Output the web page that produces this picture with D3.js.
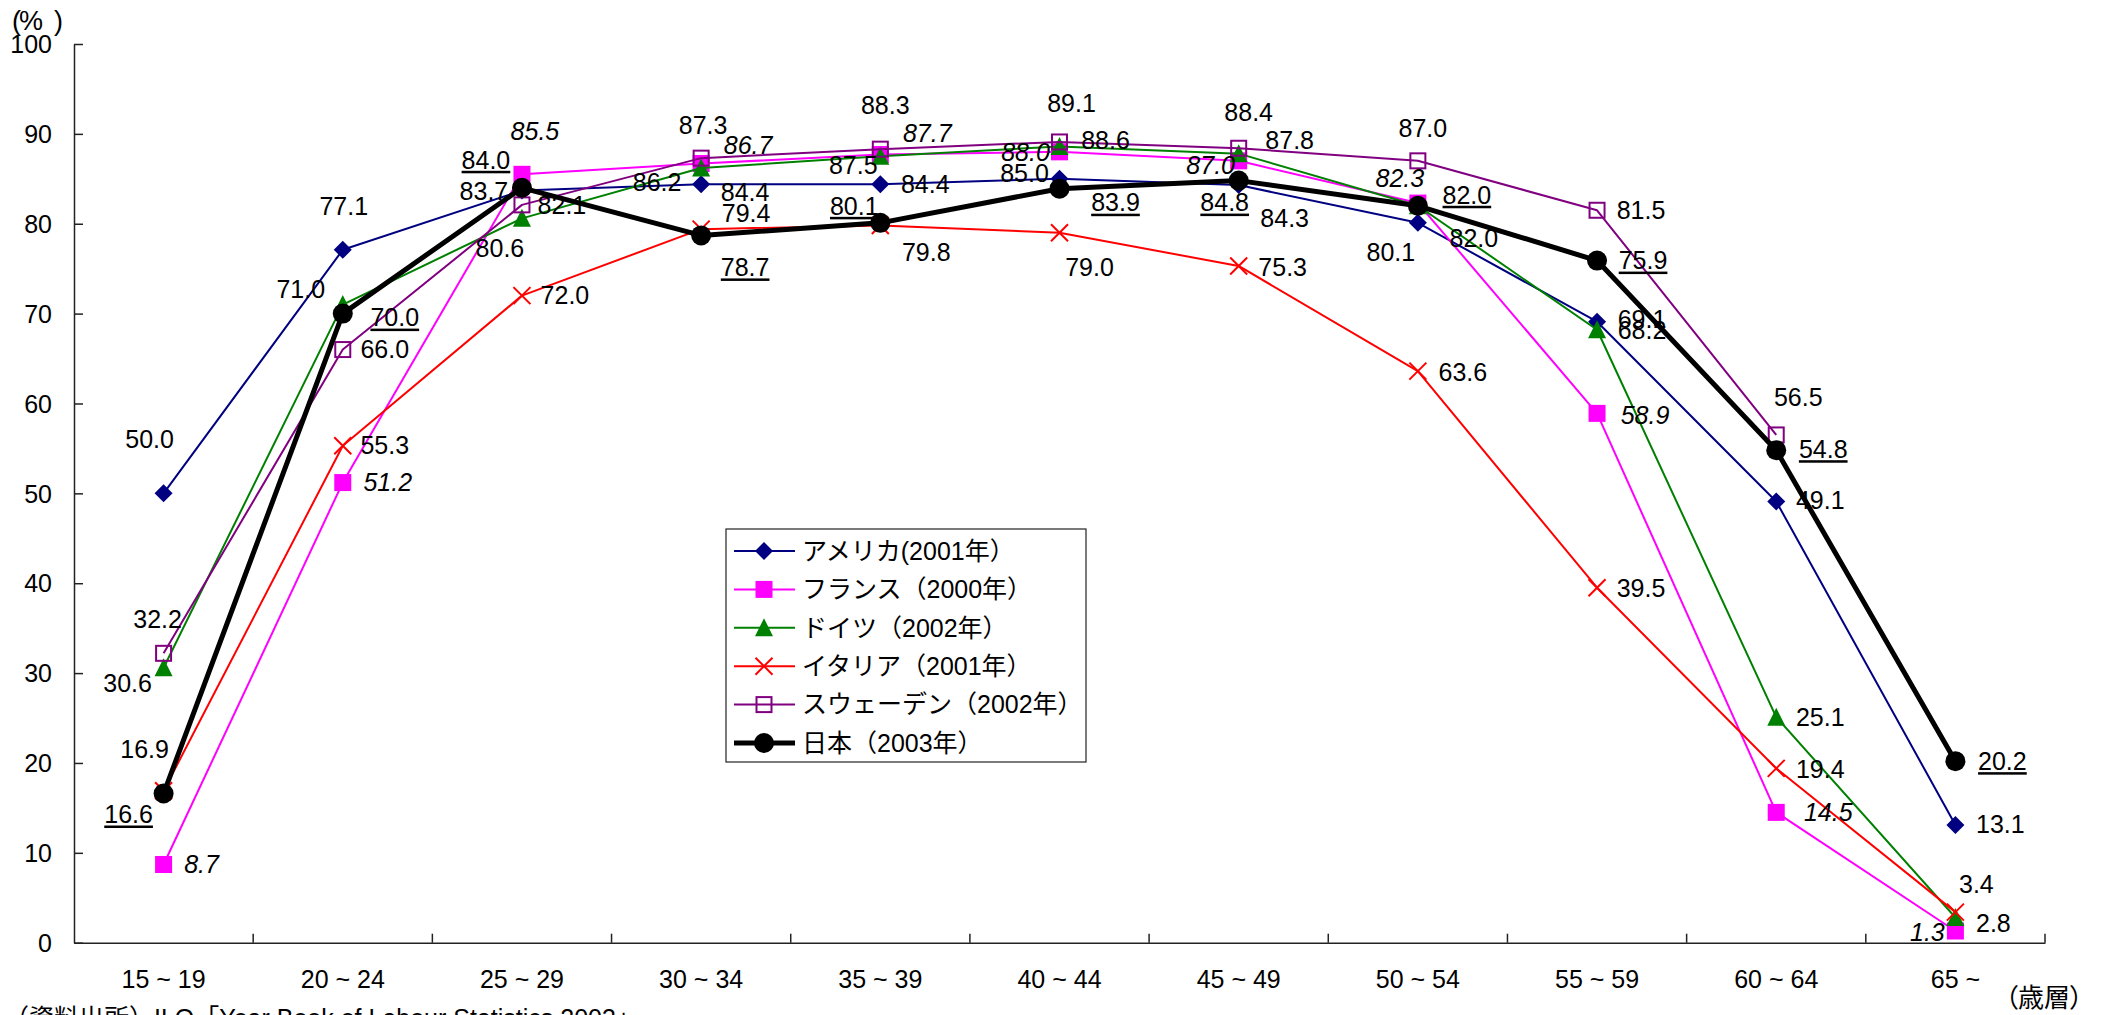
<!DOCTYPE html>
<html>
<head>
<meta charset="utf-8">
<script src="https://cdn.jsdelivr.net/npm/d3@7"></script>
<style>
  html, body { margin: 0; padding: 0; background: #fff; overflow: hidden; }
  text { font-family: "Liberation Sans", Arial, "Noto Sans CJK JP", sans-serif; fill: #000; }
</style>
</head>
<body>
<svg id="chart"></svg>
<script>
// age groups on the x axis
const categories = ["15 ~ 19", "20 ~ 24", "25 ~ 29", "30 ~ 34", "35 ~ 39", "40 ~ 44",
                    "45 ~ 49", "50 ~ 54", "55 ~ 59", "60 ~ 64", "65 ~"];
const yTicks = [0, 10, 20, 30, 40, 50, 60, 70, 80, 90, 100];

// labour force participation rate (%)
const usa     = [50.0, 77.1, 83.7, 84.4, 84.4, 85.0, 84.3, 80.1, 69.1, 49.1, 13.1];
const france  = [8.7, 51.2, 85.5, 86.7, 87.7, 88.0, 87.0, 82.3, 58.9, 14.5, 1.3];
const germany = [30.6, 71.0, 80.6, 86.2, 87.5, 88.6, 87.8, 82.0, 68.2, 25.1, 2.8];
const italy   = [16.9, 55.3, 72.0, 79.4, 79.8, 79.0, 75.3, 63.6, 39.5, 19.4, 3.4];
const sweden  = [32.2, 66.0, 82.1, 87.3, 88.3, 89.1, 88.4, 87.0, 81.5, 56.5, null];
const japan   = [16.6, 70.0, 84.0, 78.7, 80.1, 83.9, 84.8, 82.0, 75.9, 54.8, 20.2];

const seriesNames = ["アメリカ(2001年）", "フランス（2000年）", "ドイツ（2002年）",
                     "イタリア（2001年）", "スウェーデン（2002年）", "日本（2003年）"];

// where each value label sits, relative to its point (px)
const labelOffsets = {
  usa:     [[-14,-54],[1,-44],[-38,1],[44,8],[45,0],[-35,-6],[46,33],[-27,29],[45,-2],[44,-1],[45,-1]],
  france:  [[38,0],[45,0],[13,-43],[47,-18],[47,-21],[-34,0],[-28,4],[-18,-25],[48,2],[52,0],[-28,1]],
  germany: [[-36,16],[-42,-15],[-22,30],[-44,14],[-27,9],[46,-6],[51,-13],[56,32],[45,0],[44,0],[38,6]],
  italy:   [[-19,-42],[42,0],[43,0],[45,-16],[46,27],[30,35],[44,1],[45,1],[44,1],[44,1],[21,-28]],
  sweden:  [[-6,-34],[42,0],[40,0],[2,-33],[5,-44],[12,-39],[10,-36],[5,-33],[44,0],[22,-38],null],
  japan:   [[-35,21],[52,4],[-36,-28],[44,32],[-26,-17],[56,14],[-14,22],[49,-11],[46,0],[47,-1],[47,0]]
};

const series = [
  { key: "usa",     name: seriesNames[0], values: usa,     color: "#000080", width: 2, marker: "diamond" },
  { key: "france",  name: seriesNames[1], values: france,  color: "#FF00FF", width: 2, marker: "square", italic: true },
  { key: "germany", name: seriesNames[2], values: germany, color: "#008000", width: 2, marker: "triangle" },
  { key: "italy",   name: seriesNames[3], values: italy,   color: "#FF0000", width: 2, marker: "cross" },
  { key: "sweden",  name: seriesNames[4], values: sweden,  color: "#800080", width: 2, marker: "opensquare" },
  { key: "japan",   name: seriesNames[5], values: japan,   color: "#000000", width: 5, marker: "circle", underline: true }
];

const W = 2105, H = 1015;
const svg = d3.select("#chart").attr("width", W).attr("height", H);

const x = d3.scaleBand().domain(categories).range([74, 2045]);
const y = d3.scaleLinear().domain([0, 100]).range([942.7, 44]);
const cx = d => x(d) + x.bandwidth() / 2;

// axes
const yAxis = d3.axisLeft(y).tickValues(yTicks).tickSize(-9).tickSizeOuter(0).tickPadding(22);
const gy = svg.append("g").attr("transform", "translate(74,0)").call(yAxis);
gy.selectAll("text").style("font-size", "25px").attr("dy", "0.35em");

const xAxis = d3.axisBottom(x).tickSize(0).tickSizeOuter(0).tickPadding(37);
const gx = svg.append("g").attr("transform", `translate(0,${y(0)})`).call(xAxis);
gx.selectAll("text").style("font-size", "25px").attr("dy", "0.35em");

// category boundary ticks (inside)
gx.selectAll(".sep").data(categories).enter().append("line")
  .attr("x1", d => x(d) + x.bandwidth()).attr("x2", d => x(d) + x.bandwidth())
  .attr("y1", 0).attr("y2", -9);

svg.selectAll(".domain, .tick line").attr("stroke", "#222").attr("stroke-width", 1.5);
gx.selectAll("line").attr("stroke", "#222").attr("stroke-width", 1.5);

// markers
function drawMarker(g, type, px, py, color) {
  if (type === "diamond") {
    g.append("path").attr("d", `M${px},${py - 9}L${px + 9},${py}L${px},${py + 9}L${px - 9},${py}Z`)
      .attr("fill", color);
  } else if (type === "square") {
    g.append("rect").attr("x", px - 8.5).attr("y", py - 8.5).attr("width", 17).attr("height", 17)
      .attr("fill", color);
  } else if (type === "triangle") {
    g.append("path").attr("d", `M${px},${py - 9.5}L${px + 9},${py + 8.5}L${px - 9},${py + 8.5}Z`)
      .attr("fill", color);
  } else if (type === "cross") {
    g.append("path").attr("d", `M${px - 8.5},${py - 8.5}L${px + 8.5},${py + 8.5}M${px + 8.5},${py - 8.5}L${px - 8.5},${py + 8.5}`)
      .attr("stroke", color).attr("stroke-width", 2).attr("fill", "none");
  } else if (type === "opensquare") {
    g.append("rect").attr("x", px - 7.5).attr("y", py - 7.5).attr("width", 15).attr("height", 15)
      .attr("fill", "none").attr("stroke", color).attr("stroke-width", 2);
  } else if (type === "circle") {
    g.append("circle").attr("cx", px).attr("cy", py).attr("r", 10).attr("fill", color);
  }
}

const line = d3.line()
  .defined(d => d.v != null)
  .x(d => cx(d.c))
  .y(d => y(d.v));

series.forEach(s => {
  const pts = s.values.map((v, i) => ({ c: categories[i], v }));
  const g = svg.append("g");
  g.append("path").datum(pts)
    .attr("d", line)
    .attr("fill", "none")
    .attr("stroke", s.color)
    .attr("stroke-width", s.width)
    .attr("stroke-linejoin", "round");
  pts.filter(d => d.v != null).forEach(d => drawMarker(g, s.marker, cx(d.c), y(d.v), s.color));
});

// value labels
const labels = svg.append("g");
series.forEach(s => {
  s.values.forEach((v, i) => {
    if (v == null) return;
    const off = labelOffsets[s.key][i];
    const lx = cx(categories[i]) + off[0];
    const ly = y(v) + off[1];
    const t = labels.append("text")
      .attr("x", lx).attr("y", ly)
      .attr("text-anchor", "middle")
      .attr("dy", "0.35em")
      .style("font-size", "25px")
      .style("font-style", s.italic ? "italic" : "normal")
      .text(v.toFixed(1));
    if (s.underline) {
      const w = t.node().getComputedTextLength();
      labels.append("rect")
        .attr("x", lx - w / 2).attr("y", ly + 11)
        .attr("width", w).attr("height", 2.5)
        .attr("fill", "#000");
    }
  });
});

// legend
const lg = svg.append("g");
lg.append("rect").attr("x", 726).attr("y", 529).attr("width", 360).attr("height", 233)
  .attr("fill", "#fff").attr("stroke", "#222").attr("stroke-width", 1.2);
const rowY = d3.scalePoint().domain(series.map(s => s.key)).range([551, 743]);
series.forEach(s => {
  const ry = rowY(s.key);
  lg.append("line").attr("x1", 734).attr("x2", 795).attr("y1", ry).attr("y2", ry)
    .attr("stroke", s.color).attr("stroke-width", s.width);
  drawMarker(lg, s.marker, 764, ry, s.color);
  lg.append("text").attr("x", 802).attr("y", ry).attr("dy", "0.35em")
    .style("font-size", "25px").text(s.name);
});

// unit labels and source
const unit = svg.append("text").attr("y", 21).attr("dy", "0.35em").style("font-size", "27px");
unit.append("tspan").attr("x", 12).text("(");
unit.append("tspan").attr("x", 19).text("%");
unit.append("tspan").attr("x", 54).text(")");
svg.append("text").attr("x", 2044).attr("y", 998).attr("dy", "0.35em").attr("text-anchor", "middle")
  .style("font-size", "26px").style("font-feature-settings", "'palt'").text("（歳層）");
svg.append("text").attr("x", 4).attr("y", 1027)
  .style("font-size", "25px").text("（資料出所）ILO「Year Book of Labour Statistics 2003」");
</script>
</body>
</html>
